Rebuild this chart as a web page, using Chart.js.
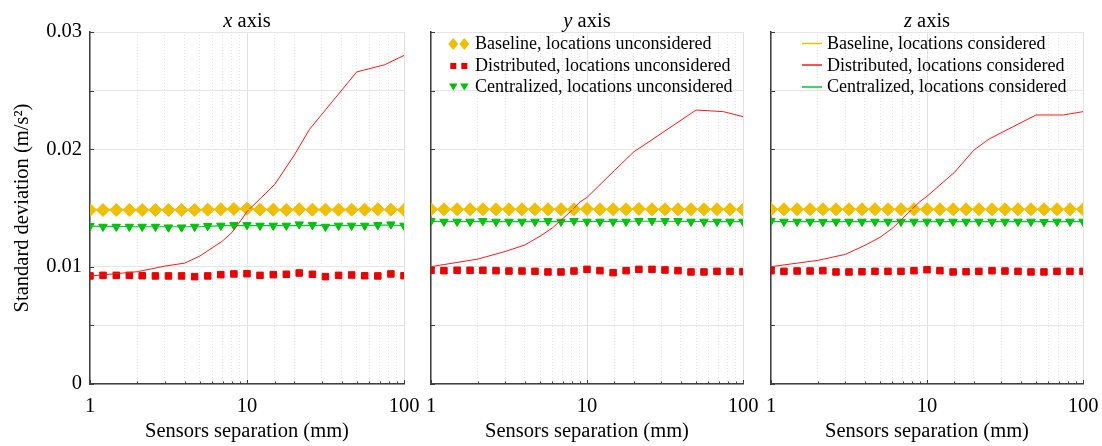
<!DOCTYPE html>
<html>
<head>
<meta charset="utf-8">
<script src="https://cdn.jsdelivr.net/npm/chart.js@4.4.1/dist/chart.umd.min.js"></script>
<style>
html,body{margin:0;padding:0;background:#fff;}
#wrap{position:relative;width:1102px;height:446px;overflow:hidden;font-family:"Liberation Serif","Times New Roman",serif;color:#000;}
canvas{position:absolute;top:0;}
.ttl{position:absolute;top:10px;height:20px;line-height:20px;font-size:20.5px;text-align:center;width:200px;white-space:nowrap;}
.lt{position:absolute;font-size:18px;line-height:21.7px;height:21.7px;white-space:nowrap;}
svg.mk{position:absolute;overflow:visible;}
</style>
</head>
<body>
<div id="wrap">
  <canvas id="c1" width="420" height="446" style="left:0px"></canvas>
  <canvas id="c2" width="340" height="446" style="left:420px"></canvas>
  <canvas id="c3" width="342" height="446" style="left:760px"></canvas>

  <div class="ttl" style="left:147px"><i>x</i> axis</div>
  <div class="ttl" style="left:487px"><i>y</i> axis</div>
  <div class="ttl" style="left:827px"><i>z</i> axis</div>

  <!-- legend, panel 2 (marker series) -->
  <svg class="mk" width="26" height="14" style="left:446px;top:37px">
    <polygon points="7.3,1 12.3,7 7.3,13 2.3,7" fill="#EEBE00"/>
    <polygon points="18.3,1 23.3,7 18.3,13 13.3,7" fill="#EEBE00"/>
  </svg>
  <div class="lt" style="left:475px;top:33.1px">Baseline, locations unconsidered</div>
  <svg class="mk" width="26" height="14" style="left:446px;top:58.7px">
    <rect x="4.3" y="4" width="6" height="6" fill="#E60000"/>
    <rect x="15.3" y="4" width="6" height="6" fill="#E60000"/>
  </svg>
  <div class="lt" style="left:475px;top:54.8px">Distributed, locations unconsidered</div>
  <svg class="mk" width="26" height="14" style="left:446px;top:80.3px">
    <polygon points="3.1,3.5 11.5,3.5 7.3,10.5" fill="#00BE00"/>
    <polygon points="14.1,3.5 22.5,3.5 18.3,10.5" fill="#00BE00"/>
  </svg>
  <div class="lt" style="left:475px;top:76.4px">Centralized, locations unconsidered</div>

  <!-- legend, panel 3 (line series) -->
  <svg class="mk" width="22" height="60" style="left:801px;top:36px">
    <line x1="1" y1="7.5" x2="21" y2="7.5" stroke="#F2C200" stroke-width="1.5"/>
    <line x1="1" y1="29" x2="21" y2="29" stroke="#FF1A1A" stroke-width="1.5"/>
    <line x1="1" y1="51" x2="21" y2="51" stroke="#00C832" stroke-width="1.5"/>
  </svg>
  <div class="lt" style="left:827px;top:33.1px">Baseline, locations considered</div>
  <div class="lt" style="left:827px;top:54.8px">Distributed, locations considered</div>
  <div class="lt" style="left:827px;top:76.4px">Centralized, locations considered</div>
</div>

<script>
// ---------------- data ----------------
const sepMarkers = [1, 1.21, 1.47, 1.78, 2.15, 2.61, 3.16, 3.83, 4.64, 5.62, 6.81, 8.25, 10,
                    12.1, 14.7, 17.8, 21.5, 26.1, 31.6, 38.3, 46.4, 56.2, 68.1, 82.5, 100];
const sepLine = [1, 2, 3, 4, 5, 6, 7, 8, 9, 10, 15, 20, 25, 50, 75, 100];
const xTickLabels = ['1', '10', '100'];
const yTickLabels = ['0', '0.01', '0.02', '0.03'];

// x axis panel
const xBaseUncons = [0.01483,0.01483,0.01483,0.01483,0.01483,0.01483,0.01483,0.01483,0.01483,0.01486,0.01489,0.01492,0.01494,0.01486,0.01486,0.01483,0.01489,0.01486,0.01486,0.01486,0.01486,0.01486,0.01489,0.01486,0.01483];
const xDistUncons = [0.00921,0.00926,0.00926,0.00926,0.00923,0.00921,0.00921,0.00921,0.00915,0.00921,0.00932,0.00938,0.00940,0.00926,0.00932,0.00935,0.00946,0.00935,0.00915,0.00926,0.00929,0.00923,0.00921,0.00938,0.00923];
const xCentUncons = [0.01347,0.01341,0.01341,0.01341,0.01341,0.01341,0.01335,0.01335,0.01341,0.01347,0.01350,0.01355,0.01355,0.01350,0.01350,0.01350,0.01361,0.01355,0.01341,0.01350,0.01350,0.01350,0.01355,0.01361,0.01350];
const xBaseCons = [0.01484,0.01484,0.01484,0.01484,0.01484,0.01484,0.01485,0.01486,0.01488,0.01488,0.01486,0.01486,0.01486,0.01486,0.01486,0.01485];
const xDistCons = [0.0092,0.00957,0.01005,0.0103,0.0109,0.0116,0.0122,0.0129,0.0138,0.0147,0.0170,0.0195,0.0217,0.0266,0.0272,0.0280];
const xCentCons = [0.01345,0.0134,0.0134,0.0134,0.0134,0.01345,0.0135,0.0135,0.0135,0.0135,0.0135,0.0135,0.01352,0.0135,0.01355,0.0135];

// y axis panel
const yBaseUncons = [0.01489,0.01489,0.01489,0.01489,0.01489,0.01489,0.01489,0.01489,0.01489,0.01489,0.01489,0.01489,0.01492,0.01489,0.01489,0.01489,0.01492,0.01489,0.01489,0.01489,0.01489,0.01489,0.01489,0.01489,0.01486];
const yDistUncons = [0.00969,0.00966,0.00969,0.00969,0.00969,0.00966,0.00963,0.00963,0.00960,0.00955,0.00955,0.00963,0.00977,0.00966,0.00949,0.00966,0.00977,0.00977,0.00972,0.00966,0.00955,0.00955,0.00960,0.00960,0.00957];
const yCentUncons = [0.01389,0.01384,0.01384,0.01384,0.01389,0.01384,0.01384,0.01384,0.01384,0.01389,0.01384,0.01389,0.01384,0.01384,0.01384,0.01384,0.01389,0.01389,0.01389,0.01389,0.01384,0.01384,0.01384,0.01384,0.01384];
const yBaseCons = [0.01488,0.01488,0.01488,0.01488,0.01488,0.01488,0.01488,0.01488,0.01488,0.01489,0.01489,0.01489,0.01489,0.01489,0.01488,0.01487];
const yDistCons = [0.0100,0.01065,0.0113,0.01185,0.0126,0.0133,0.0141,0.0148,0.0155,0.0159,0.0182,0.0198,0.02065,0.02335,0.02321,0.02278];
const yCentCons = [0.01385,0.01384,0.01384,0.01384,0.01384,0.01384,0.01384,0.01385,0.01385,0.01385,0.01386,0.01387,0.01387,0.01385,0.01384,0.01384];

// z axis panel
const zBaseUncons = [0.01489,0.01489,0.01489,0.01489,0.01489,0.01489,0.01489,0.01489,0.01489,0.01489,0.01489,0.01489,0.01489,0.01489,0.01489,0.01489,0.01489,0.01489,0.01489,0.01489,0.01489,0.01489,0.01489,0.01489,0.01489];
const zDistUncons = [0.00966,0.00960,0.00963,0.00963,0.00966,0.00955,0.00955,0.00957,0.00960,0.00960,0.00960,0.00966,0.00974,0.00966,0.00955,0.00957,0.00960,0.00966,0.00963,0.00960,0.00955,0.00955,0.00960,0.00960,0.00960];
const zCentUncons = [0.01389,0.01384,0.01384,0.01384,0.01381,0.01384,0.01384,0.01384,0.01384,0.01384,0.01384,0.01384,0.01384,0.01384,0.01384,0.01384,0.01384,0.01384,0.01384,0.01384,0.01384,0.01381,0.01384,0.01384,0.01384];
const zBaseCons = [0.01488,0.01488,0.01488,0.01488,0.01488,0.01488,0.01488,0.01488,0.01488,0.01488,0.01488,0.01488,0.01488,0.01488,0.01488,0.01488];
const zDistCons = [0.0100,0.01054,0.01105,0.01182,0.0125,0.01327,0.01412,0.01489,0.01554,0.0160,0.01804,0.01994,0.02088,0.02293,0.02293,0.02321];
const zCentCons = [0.01384,0.01384,0.01384,0.01384,0.01384,0.01384,0.01384,0.01384,0.01384,0.01384,0.01384,0.01384,0.01384,0.01384,0.01384,0.01384];

// ---------------- styling ----------------
const FONT = '"Liberation Serif", "Times New Roman", serif';
const FS = 20.5;
const AX = '#404040';
const YEL = '#EEBE00', RED = '#E60000', GRN = '#00BE00';
const YEL_L = '#F2C200', RED_L = '#FF1A1A', GRN_L = '#00C832';

function pts(xs, ys) { return xs.map((x, i) => ({x: x, y: ys[i]})); }
function isPow10(v) { const l = Math.log10(v); return Math.abs(l - Math.round(l)) < 1e-6; }

const inTicks = {
  id: 'inTicks',
  beforeDatasetsDraw(chart) {
    const {ctx, chartArea: a, scales: {x, y}} = chart;
    ctx.save();
    ctx.strokeStyle = AX; ctx.lineWidth = 1;
    y.ticks.forEach(t => {
      const py = Math.round(y.getPixelForValue(t.value)) + 0.5;
      ctx.beginPath(); ctx.moveTo(a.left, py); ctx.lineTo(a.left + 4, py); ctx.stroke();
    });
    x.ticks.forEach(t => {
      const px = Math.round(x.getPixelForValue(t.value)) + 0.5;
      const len = isPow10(t.value) ? 4 : 2.5;
      ctx.beginPath(); ctx.moveTo(px, a.bottom); ctx.lineTo(px, a.bottom - len); ctx.stroke();
    });
    ctx.restore();
  }
};

function makeChart(id, o) {
  return new Chart(document.getElementById(id), {
    type: 'scatter',
    data: {
      datasets: [
        {label: 'Baseline, locations considered', data: pts(sepLine, o.baseCons), showLine: true,
         borderColor: YEL_L, borderWidth: 1.2, pointRadius: 0, order: 0},
        {label: 'Distributed, locations considered', data: pts(sepLine, o.distCons), showLine: true,
         borderColor: RED_L, borderWidth: 1, pointRadius: 0, order: 0},
        {label: 'Centralized, locations considered', data: pts(sepLine, o.centCons), showLine: true,
         borderColor: GRN_L, borderWidth: 1.2, pointRadius: 0, order: 0},
        {label: 'Baseline, locations unconsidered', data: pts(sepMarkers, o.baseUncons), showLine: false,
         pointStyle: 'rectRot', pointRadius: 6.5, backgroundColor: YEL, borderColor: YEL, borderWidth: 1, order: 1},
        {label: 'Distributed, locations unconsidered', data: pts(sepMarkers, o.distUncons), showLine: false,
         pointStyle: 'rect', pointRadius: 4.6, backgroundColor: RED, borderColor: RED, borderWidth: 1, order: 1},
        {label: 'Centralized, locations unconsidered', data: pts(sepMarkers, o.centUncons), showLine: false,
         pointStyle: 'triangle', rotation: 180, pointRotation: 180, pointRadius: 4.8, backgroundColor: GRN, borderColor: GRN, borderWidth: 1, order: 1}
      ]
    },
    options: {
      responsive: false,
      animation: false,
      layout: {padding: {left: 0, right: o.padR, top: 32, bottom: 0}},
      plugins: {legend: {display: false}, tooltip: {enabled: false}},
      scales: {
        x: {
          type: 'logarithmic', min: 1, max: 100,
          afterFit: s => { s.height = 62; s.paddingLeft = 0; s.paddingRight = 0; },
          ticks: {
            autoSkip: false, maxRotation: 0, minRotation: 0, padding: 10, color: '#000',
            font: {family: FONT, size: FS},
            callback: v => {
              if (!isPow10(v)) return '';
              const i = Math.round(Math.log10(v));
              return xTickLabels[i];
            }
          },
          grid: {
            drawTicks: false, lineWidth: 1,
            color: c => (c.tick && isPow10(c.tick.value)) ? '#e2e2e2' : '#e4e4e4'
          },
          border: {
            display: true, color: AX, width: 1.5,
            dash: c => (c.tick && !isPow10(c.tick.value)) ? [1, 2] : []
          },
          title: {display: true, text: 'Sensors separation (mm)', color: '#000',
                  font: {family: FONT, size: FS}, padding: {top: 0, bottom: 2}}
        },
        y: {
          type: 'linear', min: 0, max: 0.03,
          afterFit: s => { s.width = o.yW; s.paddingTop = 0; s.paddingBottom = 0; },
          ticks: {
            display: o.showY, stepSize: 0.005, padding: 8, color: '#000',
            font: {family: FONT, size: FS},
            callback: v => {
              const k = Math.round(v * 1000);
              return (k % 10 === 0) ? yTickLabels[k / 10] : '';
            }
          },
          grid: {drawTicks: false, lineWidth: 1, color: '#e6e6e6'},
          border: {display: true, color: AX, width: 1.5},
          title: {display: o.showY, text: 'Standard deviation (m/s²)', color: '#000',
                  font: {family: FONT, size: FS}, padding: {top: 10, bottom: 0}}
        }
      }
    },
    plugins: [inTicks]
  });
}

makeChart('c1', {padR: 16, yW: 90, showY: true,
  baseUncons: xBaseUncons, distUncons: xDistUncons, centUncons: xCentUncons,
  baseCons: xBaseCons, distCons: xDistCons, centCons: xCentCons});
makeChart('c2', {padR: 17, yW: 11, showY: false,
  baseUncons: yBaseUncons, distUncons: yDistUncons, centUncons: yCentUncons,
  baseCons: yBaseCons, distCons: yDistCons, centCons: yCentCons});
makeChart('c3', {padR: 19, yW: 11, showY: false,
  baseUncons: zBaseUncons, distUncons: zDistUncons, centUncons: zCentUncons,
  baseCons: zBaseCons, distCons: zDistCons, centCons: zCentCons});
</script>
</body>
</html>
